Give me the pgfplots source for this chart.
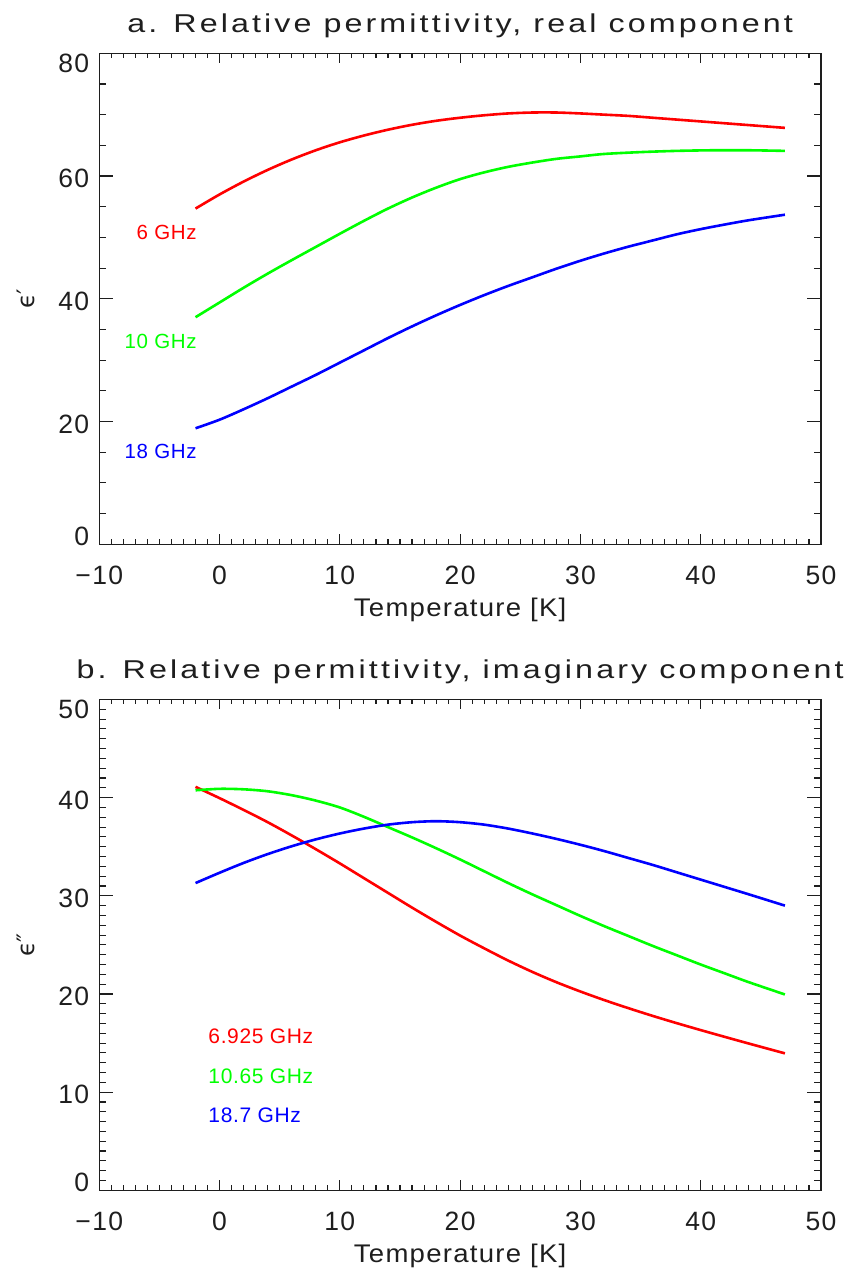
\documentclass[border=0pt]{standalone}
\usepackage{fontspec}
\setmainfont{Liberation Sans}
\newfontfamily\titlefont[FakeStretch=1.25, LetterSpace=12]{Liberation Sans}
\newfontfamily\xlabfont[FakeStretch=1.08, LetterSpace=5]{Liberation Sans}
\newfontfamily\tickfont[LetterSpace=5]{Liberation Sans}
\newfontfamily\serfont[LetterSpace=3]{Liberation Sans}
\newfontfamily\epsfont{DejaVu Sans}
\usepackage{pgfplots}
\pgfplotsset{compat=1.18}

\definecolor{axgray}{RGB}{30,30,30}

\pgfplotsset{
  idlbase/.style={
    scale only axis, width=721.7pt,
    xmin=-10, xmax=50,
    axis line style={line width=1.3pt, axgray},
    tick style={line width=1.1pt, axgray},
    tick align=inside,
    clip=false,
  },
  idlx/.style={
    idlbase,
    xtick={-10,0,10,20,30,40,50},
    xticklabels={−10,0,10,20,30,40,50},
    minor x tick num=9,
    ytick=\empty,
    major tick length=10pt, minor tick length=5pt,
    xticklabel style={font=\tickfont\fontsize{26.5}{30}\selectfont, text=axgray, anchor=base, inner sep=0pt, yshift=-40pt},
    xlabel style={at={(0.5,0)}, anchor=base, yshift=-72.4pt, inner sep=0pt, font=\xlabfont\fontsize{25.5}{30}\selectfont, text=axgray},
    title style={at={(0.5,1)}, anchor=base, yshift=15pt, inner sep=0pt, font=\titlefont\fontsize{25.8}{30}\selectfont, text=axgray},
  },
  idly/.style={
    idlbase,
    xtick=\empty,
    major tick length=14pt, minor tick length=7pt,
    yticklabel style={font=\tickfont\fontsize{26.5}{30}\selectfont, text=axgray, anchor=base east, inner sep=0pt, xshift=-10pt, yshift=-11.5pt},
  },
  curve/.style={line width=2.6pt, smooth, tension=0.5},
}

\begin{document}
\begin{tikzpicture}[x=1pt,y=1pt]
\path[use as bounding box] (0,0) rectangle (850,1272);

% ---------- Panel a ----------
\begin{axis}[idlx, at={(99.3pt,727.7pt)}, anchor=south west, height=491pt,
  ymin=0, ymax=80,
  xlabel={Temperature [K]},
  title={a. Relative permittivity, real component}]
\end{axis}
\begin{axis}[idly, at={(99.3pt,727.7pt)}, anchor=south west, height=491pt,
  ymin=0, ymax=80,
  ytick={0,20,40,60,80},
  yticklabels={\raisebox{10.5pt}{0},20,40,60,\raisebox{-7.5pt}{80}},
  minor y tick num=3]
\addplot[curve, color=red] coordinates {
(-2,54.7)(0,57.0)(2,59.1)(4,61.0)(6,62.7)(8,64.2)(10,65.5)(12,66.6)(14,67.55)(16,68.35)(18,69.0)(20,69.5)(22,69.9)(24,70.2)(26,70.35)(28,70.35)(30,70.2)(32,70.0)(34,69.8)(36,69.5)(38,69.2)(40,68.9)(42,68.6)(44,68.3)(47,67.85)};
\addplot[curve, color=green] coordinates {
(-2,37.0)(0,39.4)(2,41.8)(4,44.1)(6,46.3)(8,48.45)(10,50.6)(12,52.7)(14,54.7)(16,56.5)(18,58.1)(20,59.5)(22,60.6)(24,61.5)(26,62.2)(28,62.8)(30,63.2)(32,63.6)(35,63.9)(38,64.1)(41,64.2)(44,64.2)(47,64.1)};
\addplot[curve, color=blue] coordinates {
(-2,18.9)(0,20.3)(2,22.0)(4,23.8)(6,25.7)(8,27.6)(10,29.6)(12,31.6)(14,33.6)(16,35.5)(18,37.3)(20,39.0)(22,40.6)(24,42.1)(26,43.5)(28,44.9)(30,46.2)(32,47.4)(34,48.5)(36,49.5)(38,50.5)(40,51.35)(42,52.1)(44,52.8)(47,53.7)};
\node[anchor=base east, inner sep=0pt, text=red, font=\serfont\fontsize{20.5}{24}\selectfont] at (axis cs:-1.9,49.7) {6 GHz};
\node[anchor=base east, inner sep=0pt, text=green, font=\serfont\fontsize{20.5}{24}\selectfont] at (axis cs:-1.9,31.9) {10 GHz};
\node[anchor=base east, inner sep=0pt, text=blue, font=\serfont\fontsize{20.5}{24}\selectfont] at (axis cs:-1.9,13.9) {18 GHz};
\node[rotate=90, inner sep=0pt, text=axgray, font=\epsfont\fontsize{24}{28}\selectfont] at ([xshift=-73pt]rel axis cs:0,0.5) {ϵ′};
\end{axis}

% ---------- Panel b ----------
\begin{axis}[idlx, at={(99.3pt,81.7pt)}, anchor=south west, height=490.8pt,
  ymin=0, ymax=50,
  xlabel={Temperature [K]},
  title={b. Relative permittivity, imaginary component}]
\end{axis}
\begin{axis}[idly, at={(99.3pt,81.7pt)}, anchor=south west, height=490.8pt,
  ymin=0, ymax=50,
  ytick={0,10,20,30,40,50},
  yticklabels={\raisebox{10.5pt}{0},10,20,30,40,\raisebox{-7.5pt}{50}},
  minor y tick num=9]
\addplot[curve, color=red] coordinates {
(-2,41.1)(0,39.95)(2,38.75)(4,37.5)(6,36.15)(8,34.75)(10,33.3)(12,31.8)(14,30.3)(16,28.8)(18,27.35)(20,25.95)(22,24.65)(24,23.4)(26,22.25)(28,21.2)(30,20.25)(32,19.37)(34,18.55)(36,17.77)(38,17.03)(40,16.32)(42,15.63)(44,14.95)(47,13.95)};
\addplot[curve, color=green] coordinates {
(-2,40.75)(0,40.9)(2,40.85)(4,40.65)(6,40.25)(8,39.7)(10,39.0)(12,38.05)(14,37.0)(16,35.95)(18,34.85)(20,33.7)(22,32.5)(24,31.3)(26,30.15)(28,29.05)(30,27.95)(32,26.9)(34,25.9)(36,24.9)(38,23.95)(40,23.0)(42,22.1)(44,21.2)(47,19.95)};
\addplot[curve, color=blue] coordinates {
(-2,31.3)(0,32.35)(2,33.35)(4,34.25)(6,35.05)(8,35.75)(10,36.35)(12,36.85)(14,37.25)(16,37.5)(18,37.6)(20,37.5)(22,37.25)(24,36.85)(26,36.35)(28,35.8)(30,35.2)(32,34.55)(34,33.85)(36,33.15)(38,32.4)(40,31.65)(42,30.9)(44,30.15)(47,29.0)};
\node[anchor=base west, inner sep=0pt, text=red, font=\serfont\fontsize{21}{24}\selectfont] at (axis cs:-0.94,15.0) {6.925 GHz};
\node[anchor=base west, inner sep=0pt, text=green, font=\serfont\fontsize{21}{24}\selectfont] at (axis cs:-0.94,10.9) {10.65 GHz};
\node[anchor=base west, inner sep=0pt, text=blue, font=\serfont\fontsize{21}{24}\selectfont] at (axis cs:-0.94,6.9) {18.7 GHz};
\node[rotate=90, inner sep=0pt, text=axgray, font=\epsfont\fontsize{24}{28}\selectfont] at ([xshift=-73pt]rel axis cs:0,0.5) {ϵ″};
\end{axis}
\end{tikzpicture}
\end{document}
